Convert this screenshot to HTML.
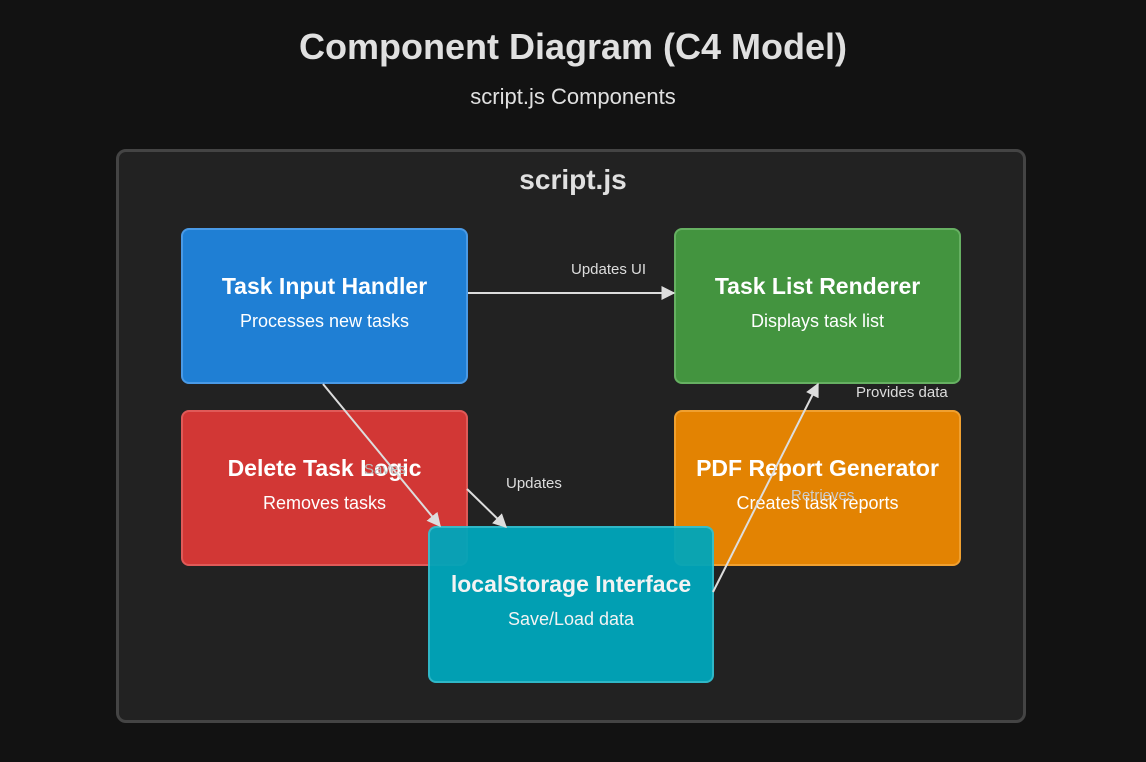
<!DOCTYPE html>
<html><head><style>
body{margin:0;width:1146px;height:762px;background:#121212;font-family:"Liberation Sans",sans-serif;position:relative;overflow:hidden;color:#fff}
.t{position:absolute;left:0;width:1146px;text-align:center}
.c{position:absolute;left:116px;top:149px;width:904px;height:568px;border:3px solid #444;border-radius:10px;background:#222}
.b{position:absolute;border-radius:8px;border:2px solid;box-sizing:border-box;text-align:center}
.b h{display:block;font-weight:bold;font-size:23px;margin-top:42px;line-height:28px}
.b p{margin:10px 0 0;font-size:18px;line-height:22px}
</style></head><body>
<div class="t" style="top:26px;font-size:36px;font-weight:bold;color:#e0e0e0">Component Diagram (C4 Model)</div>
<div class="t" style="top:84px;font-size:22px;color:#e0e0e0">script.js Components</div>
<div class="c"></div>
<div class="t" style="top:164px;font-size:28px;font-weight:bold;color:#e0e0e0">script.js</div>
<div class="b" style="left:181px;top:228px;height:156px;width:287px;background:#1f7fd4;border-color:#4a9ae6"><h>Task Input Handler</h><p>Processes new tasks</p></div>
<div class="b" style="left:674px;top:228px;height:156px;width:287px;background:#43943f;border-color:#66b062"><h>Task List Renderer</h><p>Displays task list</p></div>
<div class="b" style="left:181px;top:410px;height:156px;width:287px;background:#d23735;border-color:#e05a58"><h>Delete Task Logic</h><p>Removes tasks</p></div>
<div class="b" style="left:674px;top:410px;height:156px;width:287px;background:#e38302;border-color:#f0a030"><h>PDF Report Generator</h><p>Creates task reports</p></div>
<div class="b" style="left:428px;top:526px;height:157px;width:286px;background:#00a6bb;border-color:#30c0d0;opacity:.95"><h>localStorage Interface</h><p>Save/Load data</p></div>
<svg width="1146" height="762" style="position:absolute;left:0;top:0">
<defs><marker id="a" viewBox="0 0 10 10" refX="9" refY="5" markerWidth="7" markerHeight="7" orient="auto"><path d="M0,0L10,5L0,10z" fill="#ddd"/></marker></defs>
<g stroke="#ddd" stroke-width="2" fill="none" marker-end="url(#a)">
<line x1="468" y1="293" x2="674" y2="293"/>
<line x1="323" y1="384" x2="440" y2="526"/>
<line x1="467" y1="489" x2="506" y2="527"/>
<line x1="713" y1="592" x2="818" y2="384"/>
</g>
<g font-size="15" fill="#ddd">
<text x="571" y="274">Updates UI</text>
<text x="506" y="488">Updates</text>
<text x="856" y="397">Provides data</text>
<text x="364" y="474" fill="#bbb">Saves</text>
<text x="791" y="500" fill="#ccc">Retrieves</text>
</g>
</svg>
</body></html>
